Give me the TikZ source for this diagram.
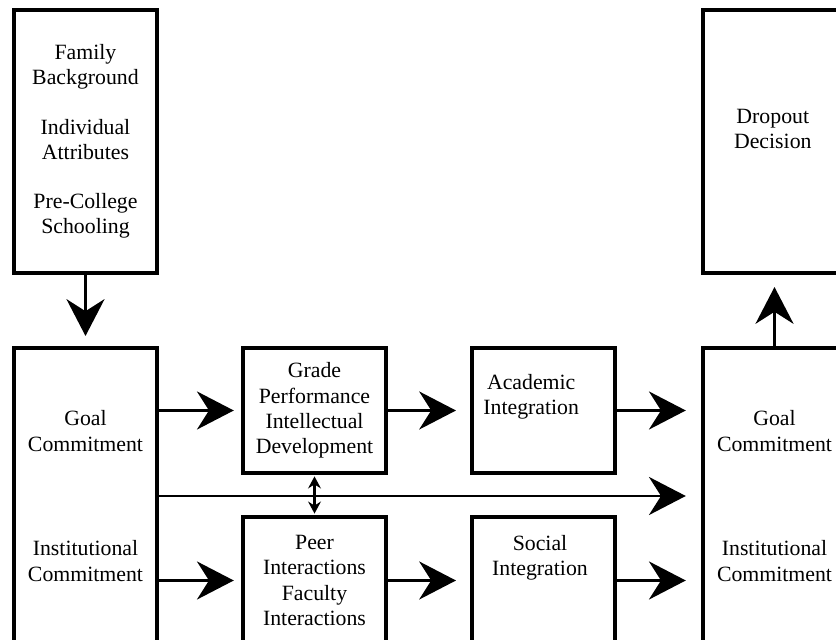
\documentclass[tikz,border=0pt]{standalone}
\usepackage{fontspec}
\setmainfont{Liberation Serif}
\usetikzlibrary{arrows.meta}
\begin{document}
\begin{tikzpicture}[line width=2.1pt,
  >={Stealth[length=0.92cm,width=0.95cm,inset=0.3cm]},
  box/.style={draw, line width=2.85pt, minimum width=3.575cm, inner sep=0pt,
    align=center, font=\fontsize{15.5}{18}\selectfont},
  txt/.style={align=center, inner sep=0pt, font=\fontsize{15.5}{18}\selectfont},
  tiny/.style={{Stealth[length=0.3cm,width=0.32cm,inset=0.1cm]}-{Stealth[length=0.3cm,width=0.32cm,inset=0.1cm]}}]

  \useasboundingbox (0,0) rectangle (20.9,16);
  \clip (0,0) rectangle (20.9,16);

  % left column
  \node[box, minimum height=6.575cm] (family) at (2.1375,12.4625)
    {Family\\Background\\[0.6cm]Individual\\Attributes\\[0.6cm]Pre-College\\Schooling};
  \node[box, minimum height=7.4cm] (commit) at (2.1375,3.6)
    {Goal\\Commitment\\[1.98cm]Institutional\\Commitment};

  % middle boxes
  \node[box, minimum height=3.125cm] (grade) at (7.8625,5.7375)
    {Grade\\Performance\\Intellectual\\Development};
  \node[box, minimum height=3.175cm] (peer) at (7.8625,1.4875)
    {Peer\\Interactions\\Faculty\\Interactions};
  \node[box, minimum height=3.125cm] (acad) at (13.5875,5.7375) {};
  \node[txt] (acadtext) at (13.28,6.08) {Academic\\Integration};
  \node[box, minimum height=3.175cm] (social) at (13.5875,1.4875) {};
  \node[txt] (socialtext) at (13.5,2.05) {Social\\Integration};

  % right column
  \node[box, minimum height=7.4cm] (final) at (19.3625,3.6)
    {Goal\\Commitment\\[1.98cm]Institutional\\Commitment};
  \node[box, minimum height=6.575cm] (dropout) at (19.3625,12.4625) {};
  \node[txt] (dropouttext) at (19.32,12.77) {Dropout\\Decision};

  % arrows
  \draw[->, shorten >=0.25cm] (family.south) -- (commit.north);
  \draw[->, shorten >=0.3cm] (final.north) -- (dropout.south);

  \draw[->, shorten >=0.18cm] (grade.west -| commit.east) -- (grade.west);
  \draw[->, shorten >=0.18cm] (peer.west -| commit.east) -- (peer.west);
  \draw[->, shorten >=0.35cm] (grade.east) -- (acad.west);
  \draw[->, shorten >=0.35cm] (peer.east) -- (social.west);
  \draw[->, shorten >=0.38cm] (acad.east) -- (acad.east -| final.west);
  \draw[->, shorten >=0.38cm] (social.east) -- (social.east -| final.west);
  \draw[->, shorten >=0.38cm] (commit.east) -- (commit.east -| final.west);

  \draw[tiny, shorten >=1pt, shorten <=1pt] (grade.south) -- (peer.north);

\end{tikzpicture}
\end{document}
